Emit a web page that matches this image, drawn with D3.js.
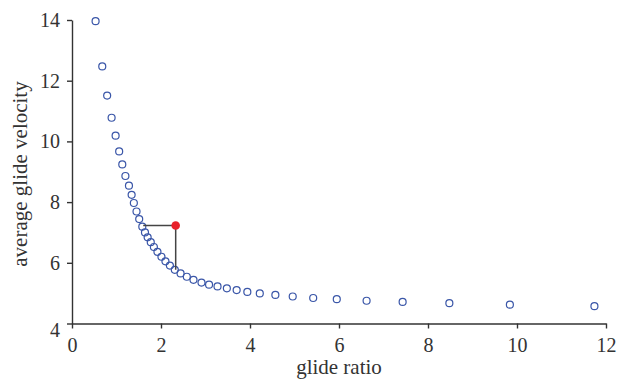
<!DOCTYPE html>
<html>
<head>
  <script src="https://d3js.org/d3.v7.min.js"></script>
  <style>
    body { margin: 0; background: #fff; }
    svg text { font-family: "Liberation Serif", "Times New Roman", "DejaVu Serif", serif; fill: #333; }
  </style>
</head>
<body>
<svg id="chart" width="619" height="380"></svg>
<script>
// glide ratio (x) and average glide velocity (y)
const glideRatio = [0.53, 0.68, 0.79, 0.89, 0.98, 1.06, 1.13, 1.20, 1.28, 1.34,
                    1.39, 1.45, 1.51, 1.58, 1.64, 1.70, 1.77, 1.84, 1.92, 2.01,
                    2.10, 2.20, 2.31, 2.44, 2.58, 2.73, 2.91, 3.08, 3.27, 3.48,
                    3.70, 3.94, 4.22, 4.57, 4.96, 5.42, 5.95, 6.62, 7.43, 8.48,
                    9.84, 11.74];
const velocity = [13.96, 12.47, 11.51, 10.78, 10.19, 9.67, 9.24, 8.86, 8.54, 8.24,
                  7.97, 7.69, 7.44, 7.19, 7.00, 6.84, 6.68, 6.52, 6.36, 6.20,
                  6.05, 5.91, 5.77, 5.65, 5.54, 5.44, 5.35, 5.28, 5.22, 5.16,
                  5.10, 5.04, 4.99, 4.94, 4.89, 4.84, 4.80, 4.75, 4.71, 4.67,
                  4.62, 4.57];

// red point and the two guide lines back to the curve
const markerPoint = [2.33, 7.23];
const guideCurveG = 1.60;   // where the horizontal guide meets the curve
const guideCurveV = 5.77;   // where the vertical guide meets the curve

const xTicks = [0, 2, 4, 6, 8, 10, 12];
const yTicks = [4, 6, 8, 10, 12, 14];

const serif = "'Liberation Serif', 'Times New Roman', 'DejaVu Serif', serif";

const svg = d3.select("#chart");

const x = d3.scaleLinear().domain([0, 12]).range([72, 606]);
const y = d3.scaleLinear().domain([4, 14]).range([323.5, 20]);

// axes
const xAxis = svg.append("g")
    .attr("transform", "translate(0,323.5)")
    .call(d3.axisBottom(x).tickValues(xTicks).tickSize(5).tickSizeOuter(0).tickPadding(9));
const yAxis = svg.append("g")
    .attr("transform", "translate(72,0)")
    .call(d3.axisLeft(y).tickValues(yTicks).tickSize(5).tickSizeOuter(0).tickPadding(7));

[xAxis, yAxis].forEach(a => {
    a.attr("font-family", serif).attr("font-size", 20);
    a.select(".domain").attr("stroke", "#333").attr("stroke-width", 1.4);
    a.selectAll(".tick line").attr("stroke", "#333").attr("stroke-width", 1.4);
    a.selectAll(".tick text").attr("fill", "#333");
});
// the "4" label sits a little lower so it clears the x axis
yAxis.selectAll(".tick text").filter(d => d === 4).attr("dy", "0.65em");

// axis titles
svg.append("text")
    .attr("x", 339)
    .attr("y", 374)
    .attr("text-anchor", "middle")
    .attr("font-family", serif)
    .attr("font-size", 21)
    .text("glide ratio");

svg.append("text")
    .attr("transform", "translate(27,174) rotate(-90)")
    .attr("text-anchor", "middle")
    .attr("font-family", serif)
    .attr("font-size", 21)
    .text("average glide velocity");

// data points
const pts = glideRatio.map((g, i) => [g, velocity[i]]);
svg.append("g")
    .selectAll("circle")
    .data(pts)
    .enter()
    .append("circle")
    .attr("cx", d => x(d[0]))
    .attr("cy", d => y(d[1]))
    .attr("r", 3.5)
    .attr("fill", "none")
    .attr("stroke", "#3a56a8")
    .attr("stroke-width", 1.2);

// guide lines
const guide = d3.line().x(d => x(d[0])).y(d => y(d[1]));
svg.append("path")
    .datum([[guideCurveG, markerPoint[1]], markerPoint, [markerPoint[0], guideCurveV]])
    .attr("d", guide)
    .attr("fill", "none")
    .attr("stroke", "#444")
    .attr("stroke-width", 1.5);

svg.append("circle")
    .attr("cx", x(markerPoint[0]))
    .attr("cy", y(markerPoint[1]))
    .attr("r", 4.3)
    .attr("fill", "#e8202a");
</script>
</body>
</html>
